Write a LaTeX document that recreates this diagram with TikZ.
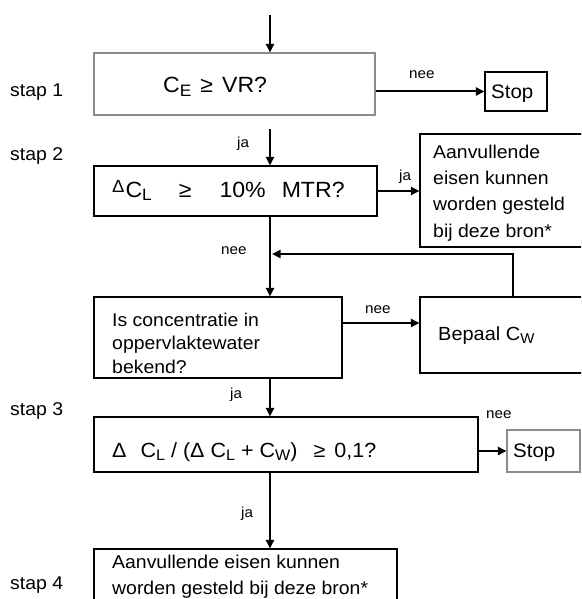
\documentclass[tikz,border=0pt]{standalone}
\usepackage{fontspec}
\setmainfont{Liberation Sans}[FakeStretch=1.05]
\usetikzlibrary{arrows.meta}
% lowered subscript and raised small delta, in the text font
\newcommand\sbs[1]{\raisebox{-0.17em}{\scalebox{0.75}{#1}}}
\newcommand\dsup{\raisebox{0.22em}{\scalebox{0.8}{Δ}}}
\begin{document}
\begin{tikzpicture}[x=1pt,y=-1pt,
  box/.style={draw=black, line width=1.1pt, inner sep=0pt},
  greybox/.style={box, draw=black!45},
  txt/.style={inner sep=0pt, anchor=base west, font=\fontsize{18.5}{23.5}\selectfont, align=left},
  formula/.style={txt, font=\fontsize{20.5}{24}\selectfont},
  bigformula/.style={txt, font=\fontsize{22}{26}\selectfont},
  lbl/.style={inner sep=0pt, anchor=base west, font=\fontsize{14.5}{16}\selectfont},
  arr/.style={line width=2pt, -{Triangle[length=8.5pt,width=8pt]}}
]
\useasboundingbox (0,0) rectangle (581,599);
\clip (0,0) rectangle (581,599);

% main column of the flow
\coordinate (col) at (270,0);
\coordinate (start) at (270,15);
\coordinate (j1) at (270,129);
\coordinate (n3) at (343,323);
\coordinate (fb) at (513,254);
\coordinate (fbend) at (272,254);

% boxes
\node[greybox, minimum width=281pt, minimum height=62pt] (b1) at (234.5,84) {};
\node[box, minimum width=62pt, minimum height=39pt] (stop1) at (516,91.5) {};
\node[box, minimum width=283pt, minimum height=50pt] (b2) at (235.5,191) {};
\node[box, minimum width=180pt, minimum height=113pt] (aanv) at (510,190.5) {};
\node[box, minimum width=248pt, minimum height=81pt] (b3) at (218,337.5) {};
\node[box, minimum width=180pt, minimum height=76pt] (bep) at (510,335) {};
\node[box, minimum width=384pt, minimum height=55pt] (b4) at (286,444.5) {};
\node[greybox, minimum width=73pt, minimum height=42pt] (stop2) at (543.5,451) {};
\node[box, minimum width=303pt, minimum height=66pt] (b5) at (245.5,582) {};

% step labels
\node[txt] (s1) at (10,97) {stap 1};
\node[txt] (s2) at (10,160) {stap 2};
\node[txt] (s3) at (10,415) {stap 3};
\node[txt] (s4) at (10,589) {stap 4};

% box texts (multi-line texts are placed by the baseline of their last line)
\node[bigformula] (t1) at (163,93) {C\sbs{E}\hspace{9pt}≥\hspace{9pt}VR?};
\node[txt, font=\fontsize{19.5}{24}\selectfont] (tstop1) at (491,99) {Stop};
\node[bigformula] (t2) at (112,197) {\dsup\hspace{1pt}C\sbs{L}\hspace{27pt}≥\hspace{28pt}10\%\hspace{16pt}MTR?};
\node[txt, font=\fontsize{18.5}{26.3}\selectfont] (taanv) at (433,237) {Aanvullende\\eisen kunnen\\worden gesteld\\bij deze bron*};
\node[txt] (t3) at (112,373) {Is concentratie in\\oppervlaktewater\\bekend?};
\node[txt, font=\fontsize{19}{24}\selectfont] (tbep) at (438,340) {Bepaal C\sbs{W}};
\node[formula] (t4) at (112,457) {Δ\hspace{14pt}C\sbs{L} / (Δ C\sbs{L} + C\sbs{W})\hspace{16pt}≥\hspace{9pt}0,1?};
\node[txt, font=\fontsize{19.5}{24}\selectfont] (tstop2) at (513,457) {Stop};
\node[txt, font=\fontsize{18.5}{25.5}\selectfont] (t5) at (112,594) {Aanvullende eisen kunnen\\worden gesteld bij deze bron*};

% connectors
\draw[arr] (start) -- (col |- b1.north);
\draw[arr] (b1.east |- stop1.west) -- (stop1.west);
\node[lbl] (nee1) at (409,79) {nee};
\draw[arr] (j1) -- (col |- b2.north);
\node[lbl] (ja1) at (237,147) {ja};
\draw[arr] (b2.east) -- (b2.east -| aanv.west);
\node[lbl] (ja2) at (399,180) {ja};
\draw[arr] (col |- b2.south) -- (col |- b3.north);
\node[lbl] (nee2) at (221,254) {nee};
\draw[arr] (fb |- bep.north) -- (fb) -- (fbend);
\draw[arr] (n3) -- (n3 -| bep.west);
\node[lbl] (nee3) at (365,313) {nee};
\draw[arr] (col |- b3.south) -- (col |- b4.north);
\node[lbl] (ja3) at (230,398) {ja};
\draw[arr] (b4.east |- stop2.west) -- (stop2.west);
\node[lbl] (nee4) at (486,418) {nee};
\draw[arr] (col |- b4.south) -- (col |- b5.north);
\node[lbl] (ja4) at (241,517) {ja};
\end{tikzpicture}
\end{document}
